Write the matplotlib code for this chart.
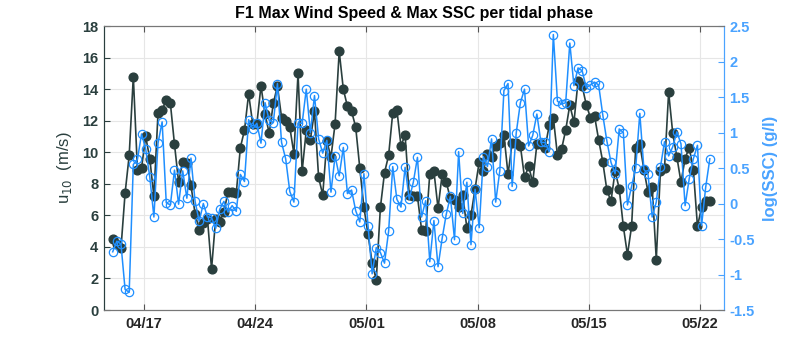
import matplotlib
matplotlib.use("Agg")
import matplotlib.pyplot as plt
import matplotlib.dates as mdates
import pandas as pd

plt.rcParams['font.family'] = ['Liberation Sans', 'DejaVu Sans']

# Maximum 10 m wind speed per tidal phase (m/s)
wind = [4.5, 4.2, 3.9, 7.4, 9.8, 14.8, 8.9, 9.0, 11.0, 9.6, 7.2, 12.5, 12.7, 13.3, 13.1,
        10.5, 8.1, 9.4, 9.3, 7.9, 6.1, 5.1,
        5.5, 5.8, 2.6, 5.8, 5.6, 6.2, 7.5, 7.5, 7.4, 10.3, 11.4, 13.7, 11.8, 11.8, 14.2,
        12.4, 11.2, 13.1, 14.2, 12.2, 12.0, 11.6, 9.9, 15.0,
        8.8, 11.4, 10.8, 12.6, 8.4, 7.3, 10.7, 9.7, 11.8, 16.4, 14.0, 12.9, 12.6, 11.6,
        9.0, 6.5, 4.8, 3.0, 1.9, 6.5, 8.7, 9.8, 12.5, 12.7, 10.4, 11.1,
        7.3, 7.2, 7.2, 5.1, 5.0, 8.65, 8.8, 6.45, 8.6, 8.1, 7.07, 7.0, 6.5, 7.3, 5.2,
        6.0, 7.7, 9.4, 8.8, 9.9, 9.7, 10.4, 10.6, 11.1,
        8.6, 10.6, 10.6, 10.4, 8.4, 9.1, 8.1, 10.5, 10.5, 10.3, 11.7, 12.2, 9.8, 10.2,
        11.4, 13.0, 11.9, 14.5, 14.2, 13.0, 12.2, 12.3, 10.8, 9.4,
        7.6, 6.9, 8.8, 7.7, 5.3, 3.5, 5.3, 10.25, 10.5, 8.9, 7.45, 7.8, 3.2, 8.8, 9.0,
        13.8, 11.2, 9.7, 8.1, 9.6, 10.3, 8.9, 5.3, 6.5, 6.9, 6.9]

# Maximum suspended sediment concentration per tidal phase, log10(g/l)
log_ssc = [-0.68, -0.53, -0.57, -1.21, -1.25, 0.55, 0.62, 0.98, 0.77, 0.375, -0.19, 0.85,
           1.15, 0.01, -0.02, 0.47, -0.01, 0.46, 0.075, 0.64, 0.03, -0.25,
           0.0, -0.19, -0.2, -0.35, -0.08, 0.03, -0.12, -0.03, -0.11, 0.41, 0.31, 1.18,
           1.05, 1.13, 0.85, 1.42, 1.17, 1.14, 1.69, 0.86, 0.63, 0.17, 0.02, 1.13,
           1.13, 1.61, 1.0, 1.52, 0.91, 0.71, 0.89, 0.16, 0.67, 0.39, 0.79, 0.14, 0.19,
           -0.10, -0.26, 0.42, -0.31, -0.99, -0.62, -0.69, -0.84, -0.39, 0.52, 0.06,
           -0.05, 0.51,
           0.06, 0.3, 0.65, -0.19, 0.04, -0.82, -0.24, -0.89, -0.49, -0.15, 0.1, -0.51,
           0.73, -0.14, 0.3, -0.58, 0.2, -0.34, 0.66, 0.52, 0.91, 0.02, 0.46, 1.59,
           1.69, 0.24, 1.0, 1.42, 1.61, 0.81, 0.96, 1.26, 0.86, 0.86, 0.73, 2.38, 1.44,
           1.4, 1.42, 2.26, 1.66, 1.91, 1.87, 1.63, 1.67, 1.71, 1.67, 1.25,
           0.88, 0.58, 0.42, 1.05, 1.0, -0.02, 0.24, 0.5, 1.27, 0.48, 0.41, -0.19, 0.02,
           0.51, 0.87, 0.67, 0.8, 1.01, 0.84, -0.03, 0.35, 0.63, 0.82, -0.31, 0.23, 0.63]

# One value per tidal phase (~6.21 h apart)
first_phase = "2019-04-15 01:10"
phase_step = "373min"
times = pd.date_range(first_phase, periods=len(wind), freq=phase_step)

x_limits = ("2019-04-14 12:00", "2019-05-23 12:00")
date_ticks = pd.date_range("2019-04-17", "2019-05-22", freq="7D")
wind_ticks = list(range(0, 19, 2))
ssc_ticks = [-1.5, -1, -0.5, 0, 0.5, 1, 1.5, 2, 2.5]

dark = "#2a3f3e"
blue = "#1f8fff"
blue_axis = "#4aa3ff"
grid_c = "#e6e6e6"

fig = plt.figure(figsize=(8.0, 3.47), dpi=100)
ax = fig.add_axes([0.13, 0.1066, 0.775, 0.8184])
ax2 = ax.twinx()

ax.plot(times, wind, '-', color=dark, lw=1.2, marker='o', ms=6.3,
        mfc=dark, mec=dark, zorder=3)
ax2.plot(times, log_ssc, '-', color=blue, lw=1.1, marker='o', ms=6.0,
         mfc='none', mec=blue, mew=0.9, zorder=3)

ax.set_xlim(pd.Timestamp(x_limits[0]), pd.Timestamp(x_limits[1]))
ax.set_ylim(0, 18)
ax2.set_ylim(-1.5, 2.5)
ax.set_yticks(wind_ticks)
ax2.set_yticks(ssc_ticks)
ax2.set_yticklabels([f"{t:g}" for t in ssc_ticks])
ax.set_xticks(date_ticks)
ax.xaxis.set_major_formatter(mdates.DateFormatter("%m/%d"))

ax.grid(True, color=grid_c, lw=0.8)
ax.set_axisbelow(True)

tick_font = dict(fontsize=10.5, fontweight='bold')
for lab in ax.get_xticklabels():
    lab.set_fontweight('bold'); lab.set_fontsize(10.5); lab.set_color('#262626')
for lab in ax.get_yticklabels():
    lab.set_fontweight('bold'); lab.set_fontsize(10.5); lab.set_color(dark)
for lab in ax2.get_yticklabels():
    lab.set_fontweight('bold'); lab.set_fontsize(10.5); lab.set_color(blue_axis)

ax.tick_params(axis='x', direction='in', length=4, top=True, color='#555555', pad=5)
ax.tick_params(axis='y', direction='in', length=4, color=dark, pad=4)
ax2.tick_params(axis='y', direction='in', length=4, color=blue_axis, pad=4)

for side in ('top', 'bottom'):
    ax.spines[side].set_color('#777777')
    ax2.spines[side].set_color('#777777')
ax.spines['left'].set_color(dark)
ax2.spines['left'].set_color(dark)
ax2.spines['right'].set_color(blue_axis)
ax.spines['right'].set_color(blue_axis)
for sp in list(ax.spines.values()) + list(ax2.spines.values()):
    sp.set_linewidth(0.8)

ax.set_ylabel(r"u$_{10}$  (m/s)", fontsize=12, color=dark, labelpad=6)
ax2.set_ylabel("log(SSC) (g/l)", fontsize=12, color=blue_axis, fontweight='bold',
               labelpad=6)
ax.set_title("F1 Max Wind Speed & Max SSC per tidal phase", fontsize=11.5,
             fontweight='bold', color='black', pad=6)

fig.savefig("out.png", dpi=100)
